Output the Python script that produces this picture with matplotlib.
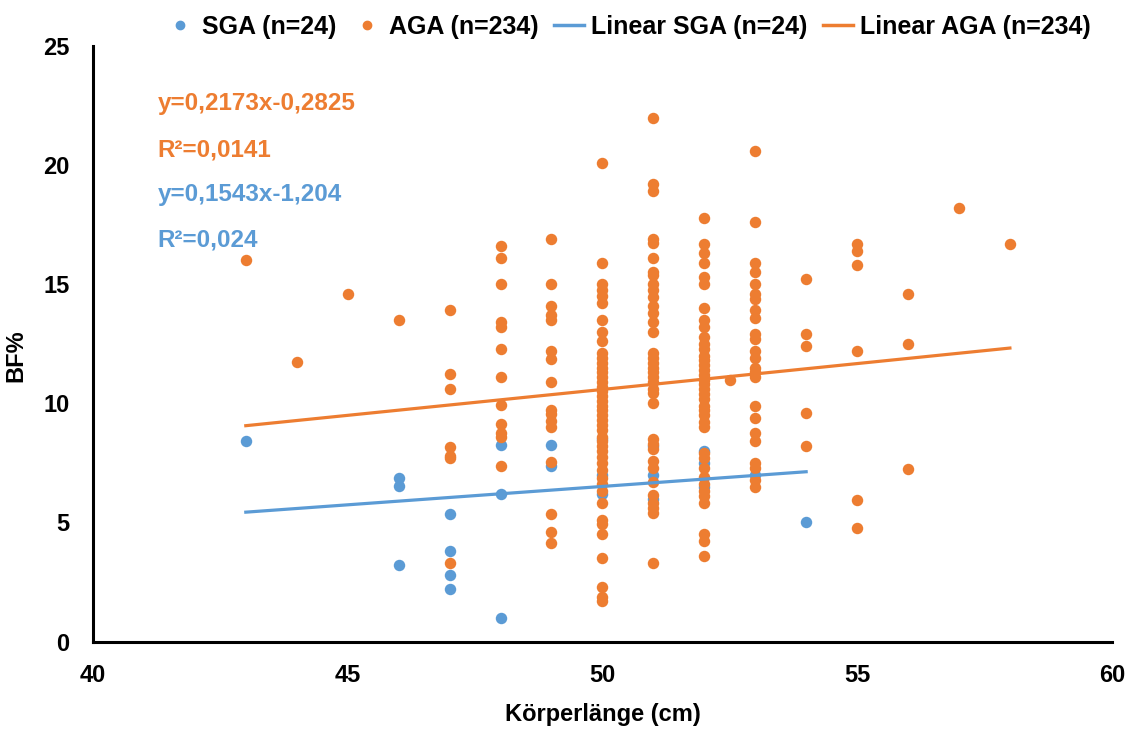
import numpy as np
import matplotlib
matplotlib.use('Agg')
import matplotlib.pyplot as plt
from matplotlib.lines import Line2D

plt.rcParams['font.family'] = ['Liberation Sans', 'DejaVu Sans']
plt.rcParams['font.weight'] = 'bold'

# SGA group: (length, BF%)
sga_x = [43, 46, 46, 46, 47, 47, 47, 47, 48, 48, 48, 49, 49,
         50, 50, 50, 51, 51, 51, 52, 52, 52, 53, 54]
sga_y = [8.4, 6.85, 6.55, 3.2, 5.35, 3.8, 2.8, 2.2, 8.25, 6.2, 1.0, 8.25, 7.35,
         6.2, 7.0, 8.5, 8.2, 6.0, 7.0, 7.5, 8.0, 6.5, 7.0, 5.0]

# AGA group, column by column
aga_cols = {
    43: [16.0],
    44: [11.75],
    45: [14.6],
    46: [13.5],
    47: [13.9, 11.25, 10.6, 8.15, 7.8, 7.7, 3.3],
    48: [16.6, 16.1, 15.0, 13.4, 13.2, 12.3, 11.1, 9.95, 9.15, 8.75, 8.6, 7.35],
    49: [16.9, 15.0, 14.1, 13.7, 13.5, 12.2, 11.85, 10.9, 9.7, 9.55, 9.25, 9.0,
         7.55, 5.35, 4.6, 4.15],
    50: [20.1, 15.9, 15.0, 14.75, 14.5, 14.2, 13.5, 13.0, 12.6, 12.1, 11.9, 11.7,
         11.5, 11.3, 11.1, 10.9, 10.7, 10.5, 10.3, 10.1, 9.9, 9.7, 9.5, 9.3, 9.1,
         8.9, 8.6, 8.4, 8.2, 8.0, 7.75, 7.5, 7.2, 6.85, 6.6, 6.3, 5.8, 5.1, 4.95,
         4.5, 3.5, 2.3, 1.85, 1.7],
    51: [22.0, 19.2, 18.9, 16.9, 16.75, 16.1, 15.5, 15.4, 15.0, 14.75, 14.45,
         14.1, 13.8, 13.4, 13.0, 12.1, 11.9, 11.7, 11.5, 11.3, 11.1, 10.9, 10.6,
         10.45, 10.0, 8.5, 8.3, 8.1, 7.6, 7.3, 6.7, 6.15, 5.8, 5.6, 5.4, 3.3],
    52: [17.8, 16.7, 16.3, 15.9, 15.3, 15.0, 14.0, 13.5, 13.2, 12.8, 12.5, 12.3,
         12.0, 11.8, 11.6, 11.4, 11.2, 11.0, 10.8, 10.6, 10.4, 10.2, 9.9, 9.7,
         9.5, 9.2, 9.0, 7.9, 7.7, 7.3, 6.9, 6.6, 6.3, 6.1, 5.8, 4.5, 4.2, 3.6],
    52.5: [11.0],
    53: [20.6, 17.6, 15.9, 15.5, 15.0, 14.6, 14.4, 13.9, 13.6, 12.9, 12.7, 12.2,
         11.9, 11.5, 11.3, 11.1, 9.9, 9.4, 8.75, 8.4, 7.5, 7.3, 6.8, 6.5],
    54: [15.2, 12.9, 12.4, 9.6, 8.2],
    55: [16.7, 16.4, 15.8, 12.2, 5.95, 4.75],
    56: [14.6, 12.5, 7.25],
    57: [18.2],
    58: [16.7],
}
aga_x = [k for k, v in aga_cols.items() for _ in v]
aga_y = [y for v in aga_cols.values() for y in v]

# trendline coefficients (slope, intercept) and R²
sga_fit = (0.1543, -1.204)
aga_fit = (0.2173, -0.2825)
sga_r2 = '0,024'
aga_r2 = '0,0141'

blue = '#5B9BD5'
orange = '#ED7D31'

fig = plt.figure(figsize=(11.27, 7.31), dpi=100)
ax = fig.add_axes([0.0825, 0.1224, 0.904, 0.8146])

ax.scatter(sga_x, sga_y, s=68, color=blue, zorder=3, linewidths=0)
ax.scatter(aga_x, aga_y, s=68, color=orange, zorder=3, linewidths=0)

xs = np.array([min(sga_x), max(sga_x)])
ax.plot(xs, sga_fit[0] * xs + sga_fit[1], color=blue, lw=2.3, zorder=4)
xa = np.array([min(aga_x), max(aga_x)])
ax.plot(xa, aga_fit[0] * xa + aga_fit[1], color=orange, lw=2.3, zorder=4)

ax.set_xlim(40, 60)
ax.set_ylim(0, 25)
ax.set_xticks([40, 45, 50, 55, 60])
ax.set_yticks([0, 5, 10, 15, 20, 25])
ax.tick_params(axis='both', length=0, labelsize=17)
ax.tick_params(axis='x', pad=16)
ax.tick_params(axis='y', pad=17)
for s in ['top', 'right']:
    ax.spines[s].set_visible(False)
for s in ['left', 'bottom']:
    ax.spines[s].set_linewidth(2.2)
    ax.spines[s].set_color('black')

ax.set_xlabel('Körperlänge (cm)', fontsize=17, fontweight='bold', labelpad=12)
ax.set_ylabel('BF%', fontsize=17, fontweight='bold')
ax.yaxis.set_label_coords(-0.064, 0.48)

def fmt(v):
    return ('%g' % v).replace('.', ',')

eq_aga = 'y=%sx%s' % (fmt(aga_fit[0]), fmt(aga_fit[1]))
eq_sga = 'y=%sx%s' % (fmt(sga_fit[0]), fmt(sga_fit[1]))
kw = dict(fontsize=17.5, fontweight='bold', va='center')
ax.text(41.27, 22.6, eq_aga, color=orange, **kw)
ax.text(41.27, 20.65, 'R²=' + aga_r2, color=orange, **kw)
ax.text(41.27, 18.76, eq_sga, color=blue, **kw)
ax.text(41.27, 16.87, 'R²=' + sga_r2, color=blue, **kw)

handles = [
    Line2D([], [], ls='none', marker='o', color=blue, markersize=6),
    Line2D([], [], ls='none', marker='o', color=orange, markersize=6),
    Line2D([], [], color=blue, lw=2.5),
    Line2D([], [], color=orange, lw=2.5),
]
labels = ['SGA (n=%d)' % len(sga_x), 'AGA (n=234)',
          'Linear SGA (n=%d)' % len(sga_x), 'Linear AGA (n=234)']
fig.legend(handles, labels, loc='upper center', bbox_to_anchor=(0.557, 1.01), ncol=4,
           frameon=False, handlelength=1.2, handletextpad=0.3,
           columnspacing=0.6, prop={'weight': 'bold', 'size': 18})

fig.savefig('out.png', dpi=100)
